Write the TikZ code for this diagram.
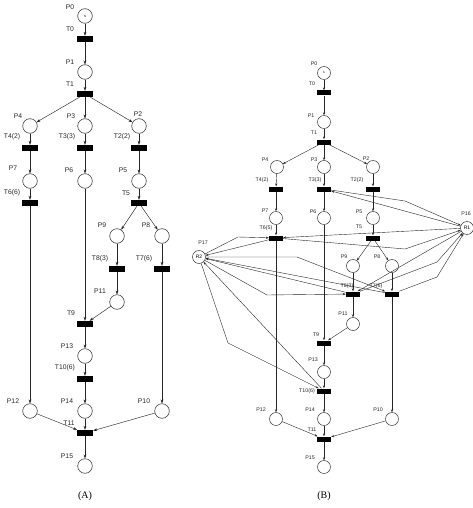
\documentclass[tikz,border=0pt]{standalone}
\usepackage{fontspec}
\setmainfont{Liberation Sans}
\newfontfamily\capfont{Liberation Serif}
\usetikzlibrary{arrows.meta}
\begin{document}
\begin{tikzpicture}[x=1pt,y=-1pt,
 arcA/.style={draw=black!85, line width=0.45pt, -{Stealth[length=4pt,width=2.8pt]}},
 arcB/.style={draw=black!85, line width=0.4pt, -{Stealth[length=3pt,width=2.2pt]}},
 placeA/.style={circle, draw=black!85, line width=0.5pt, minimum size=14.6pt, inner sep=0pt},
 placeB/.style={circle, draw=black!85, line width=0.45pt, minimum size=13pt, inner sep=0pt},
 transA/.style={rectangle, fill=black, minimum width=16pt, minimum height=6pt, inner sep=0pt},
 transB/.style={rectangle, fill=black, minimum width=14pt, minimum height=5pt, inner sep=0pt},
 labA/.style={font=\fontsize{6.8}{7}\selectfont, inner sep=0pt, text=black!85},
 labB/.style={font=\fontsize{5.3}{6}\selectfont, inner sep=0pt, text=black!85},
 captext/.style={font=\capfont\fontsize{10}{12}\selectfont, inner sep=0pt},
]
\useasboundingbox (0,0) rectangle (472,508);
% ---------------- Panel A ----------------
\foreach \n/\x/\y in {P1/85/72, P4/30/126, P3/85/126, P2/139/126, P7/30/181, P6/85/181, P5/139/181,
  P9/117/236, P8/162/236, P11/117/302, P13/85/356, P14/85/411, P12/30/411, P10/162/411, P15/85/466}
  \node[placeA] (A\n) at (\x,\y) {};
\node[placeA, font=\fontsize{4}{4}\selectfont] (AP0) at (85,16) {s};
\foreach \n/\x/\y in {T0/85/39, T1/85/94, T4/30/148, T3/85/148, T2/139/148, T6/30/203, T5/139/203,
  T8/117/269, T7/162/269, T9/85/324, T10/85/379, T11/85/433}
  \node[transA] (A\n) at (\x,\y) {};
\foreach \n/\t/\x/\y in {P0/P0/70/7, T0/T0/70/29, P1/P1/70/62, T1/T1/70/84, P4/P4/18/116, P3/P3/71/116,
  P2/P2/138/114, T4/T4(2)/12/137, T3/T3(3)/67/137, T2/T2(2)/122/137, P7/P7/13/168, P6/P6/69/170,
  P5/P5/123/170, T6/T6(6)/12/193, T5/T5/126/193, P9/P9/102/225, P8/P8/146/225, T8/T8(3)/100/259,
  T7/T7(6)/144/259, P11/P11/100/291, T9/T9/71/313, P13/P13/67/346, T10/T10(6)/65/368,
  P14/P14/67/401, P12/P12/13/401, P10/P10/144/401, T11/T11/69/423, P15/P15/67/456}
  \node[labA] (lA\n) at (\x,\y) {\t};
\foreach \a/\b in {P0/T0, T0/P1, P1/T1, T1/P4, T1/P3, T1/P2, P4/T4, P3/T3, P2/T2, T4/P7, T3/P6, T2/P5,
  P7/T6, P5/T5, T5/P9, T5/P8, P9/T8, P8/T7, T8/P11, P11/T9, P6/T9, T6/P12, T7/P10, T9/P13, P13/T10,
  T10/P14, P12/T11, P14/T11, P10/T11, T11/P15}
  \draw[arcA] (A\a) -- (A\b);
\node[captext] (capA) at (85,496) {(A)};
% ---------------- Panel B ----------------
\foreach \n/\x/\y in {P1/324/122, P4/277/167, P3/324/167, P2/373/167, P7/276/218, P6/324/218, P5/373/218,
  P9/353/266, P8/392/266, P11/353/324, P13/324/372, P14/324/419, P12/276/419, P10/392/419, P15/324/467}
  \node[placeB] (B\n) at (\x,\y) {};
\node[placeB, font=\fontsize{3.5}{4}\selectfont] (BP0) at (324,73) {s};
\node[placeB, font=\fontsize{5}{5}\selectfont] (R1) at (467,228) {R1};
\node[placeB, font=\fontsize{5}{5}\selectfont] (R2) at (199,257) {R2};
\foreach \n/\x/\y in {T0/324/93, T1/324/142, T4/276/189, T3/324/189, T2/373/189, T6/276/238, T5/373/238,
  T8/353/294, T7/392/294, T9/324/343, T10/324/391, T11/324/439}
  \node[transB] (B\n) at (\x,\y) {};
\foreach \n/\t/\x/\y in {P0/P0/314/64, T0/T0/312/84, P1/P1/311/116, T1/T1/314/133, P4/P4/265/160,
  P3/P3/314/160, P2/P2/366/159, T4/T4(2)/262/180, T3/T3(3)/315/180, T2/T2(2)/357/180, P7/P7/265/211,
  P6/P6/313/212, P5/P5/359/212, T6/T6(5)/266/228, T5/T5/359/227, P9/P9/344/257, P8/P8/377/257,
  T8/T8(3)/347/286, T7/T7(6)/376/286, P11/P11/343/314, T9/T9/316/335, P13/P13/313/360,
  T10/T10(6)/307/391, P14/P14/310/410, P12/P12/261/410, P10/P10/378/410, T11/T11/312/430,
  P15/P15/310/458, R1/P16/466/214, R2/P17/203/243}
  \node[labB] (lB\n) at (\x,\y) {\t};
\foreach \a/\b in {P0/T0, T0/P1, P1/T1, T1/P4, T1/P3, T1/P2, P4/T4, P3/T3, P2/T2, T4/P7, T3/P6, T2/P5,
  P7/T6, P5/T5, T5/P9, T5/P8, P9/T8, P8/T7, T8/P11, P11/T9, P6/T9, T6/P12, T7/P10, T9/P13, P13/T10,
  T10/P14, P12/T11, P14/T11, P10/T11, T11/P15}
  \draw[arcB] (B\a) -- (B\b);
% resource arcs
\coordinate (k1) at (405,201);
\coordinate (k2) at (405,249);
\coordinate (k3) at (437,262);
\coordinate (k4) at (437,277);
\coordinate (m1) at (238,237);
\coordinate (m2) at (297,257);
\coordinate (m3) at (267,295);
\coordinate (m4) at (228,343);
\draw[arcB] (R1) -- (BT3);
\draw[arcB] (BT3) -- (k1) -- (R1);
\draw[arcB] (R1) -- (BT6);
\draw[arcB] (BT6) -- (k2) -- (R1);
\draw[arcB] (R1) -- (BT8);
\draw[arcB] (BT8) -- (k3) -- (R1);
\draw[arcB] (BT7) -- (k4) -- (R1);
\draw[arcB] (R2) -- (m1) -- (BT6);
\draw[arcB] (BT6) -- (R2);
\draw[arcB] (R2) -- (m2) -- (BT7);
\draw[arcB] (BT7) -- (R2);
\draw[arcB] (R2) -- (m3) -- (BT8);
\draw[arcB] (BT8) -- (R2);
\draw[arcB] (R2) -- (m4) -- (BT10);
\draw[arcB] (BT10) -- (R2);
\node[captext] (capB) at (324,496) {(B)};
\end{tikzpicture}
\end{document}
